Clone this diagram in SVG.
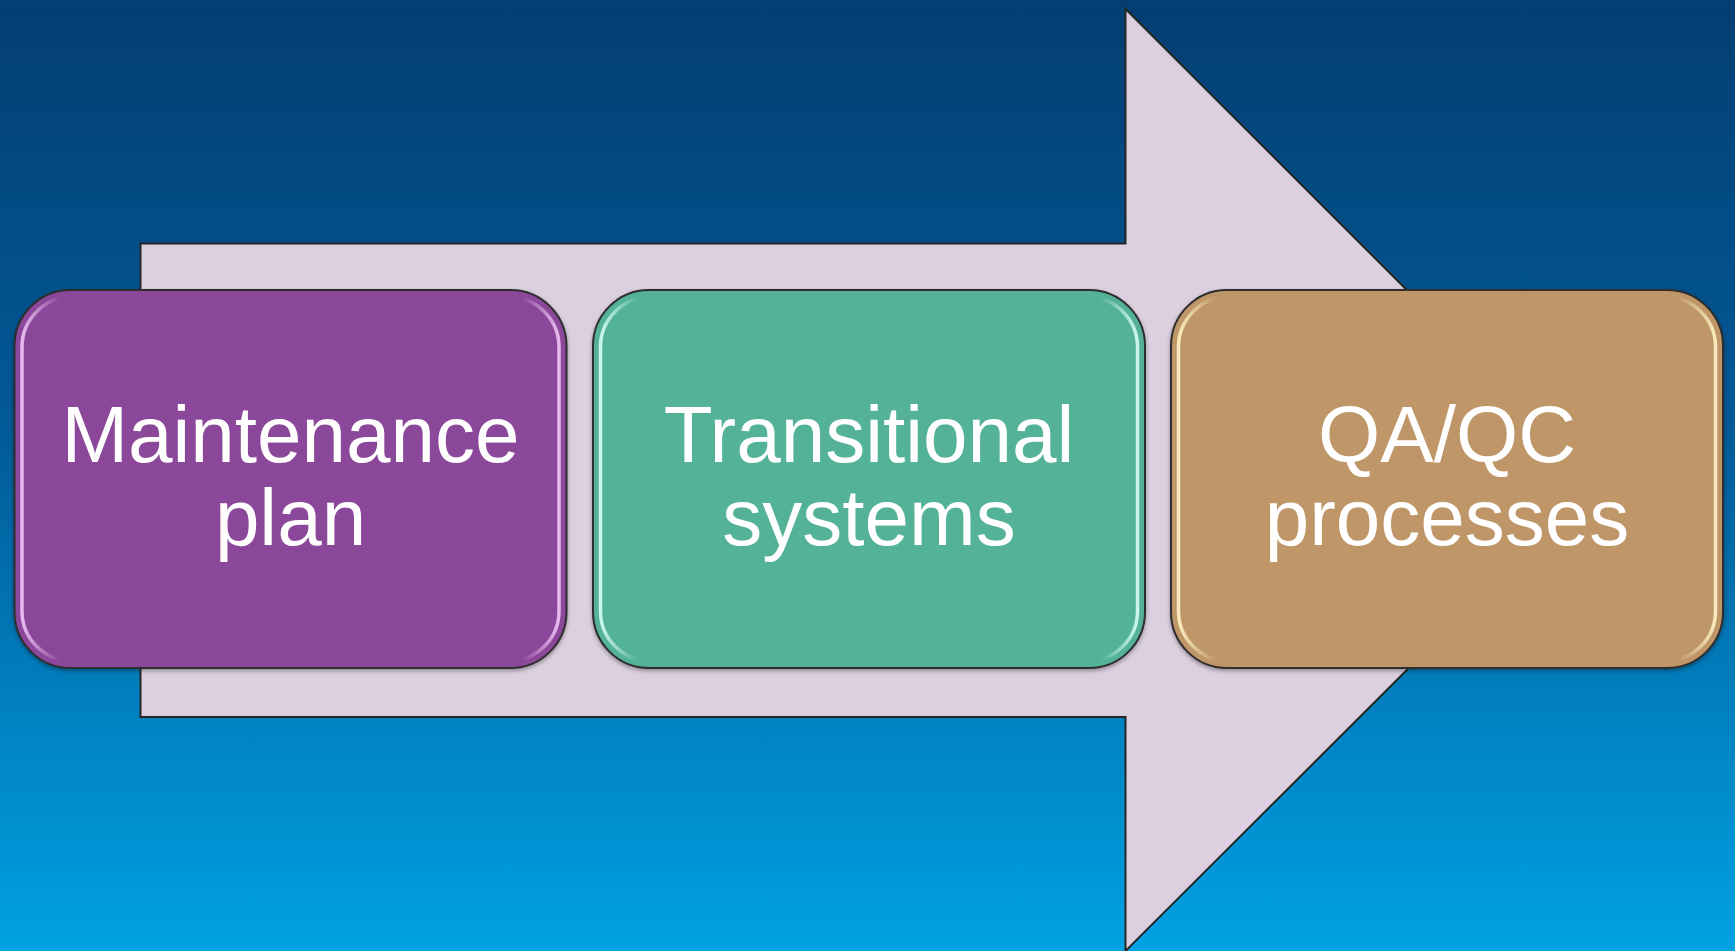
<svg xmlns="http://www.w3.org/2000/svg" width="1735" height="951" viewBox="0 0 1735 951">
<defs>
<linearGradient id="bg" x1="0" y1="0" x2="0" y2="1">
<stop offset="0" stop-color="#043e72"/>
<stop offset="0.45" stop-color="#025a98"/>
<stop offset="1" stop-color="#00a2e2"/>
</linearGradient>
<linearGradient id="rimP" x1="0" y1="0" x2="1" y2="0">
<stop offset="0" stop-color="#f0c8f8" stop-opacity="0.9"/>
<stop offset="0.07" stop-color="#f0c8f8" stop-opacity="0"/>
<stop offset="0.93" stop-color="#f0c8f8" stop-opacity="0"/>
<stop offset="1" stop-color="#f0c8f8" stop-opacity="0.9"/>
</linearGradient>
<linearGradient id="rimT" x1="0" y1="0" x2="1" y2="0">
<stop offset="0" stop-color="#d8fff4" stop-opacity="0.9"/>
<stop offset="0.07" stop-color="#d8fff4" stop-opacity="0"/>
<stop offset="0.93" stop-color="#d8fff4" stop-opacity="0"/>
<stop offset="1" stop-color="#d8fff4" stop-opacity="0.9"/>
</linearGradient>
<linearGradient id="rimQ" x1="0" y1="0" x2="1" y2="0">
<stop offset="0" stop-color="#fff4c8" stop-opacity="0.9"/>
<stop offset="0.07" stop-color="#fff4c8" stop-opacity="0"/>
<stop offset="0.93" stop-color="#fff4c8" stop-opacity="0"/>
<stop offset="1" stop-color="#fff4c8" stop-opacity="0.9"/>
</linearGradient>
<filter id="shadow" x="-5%" y="-5%" width="110%" height="115%">
<feDropShadow dx="0" dy="2" stdDeviation="2" flood-color="#000" flood-opacity="0.35"/>
</filter>
</defs>
<style>
.box { stroke: #2e2e2e; stroke-width: 2; }
.rim { fill: none; stroke-width: 3.5; }
.lbl { font-family: "Liberation Sans", Arial, sans-serif; font-size: 80px; fill: #ffffff; text-anchor: middle; }
.arrow { fill: #dcd0e0; stroke: #262626; stroke-width: 2; stroke-linejoin: miter; }
</style>
<rect x="0" y="0" width="1735" height="951" fill="url(#bg)"/>
<g id="connectors">
<path class="arrow" d="M140.5,243.5 H1125.5 V9 L1597,480 L1125.5,951 V717 H140.5 Z"/>
</g>
<g id="node-maintenance" filter="url(#shadow)">
<rect class="box" x="14.5" y="290" width="552" height="378" rx="56" ry="56" fill="#8b4799"/>
<rect class="rim" x="22" y="297" width="537" height="364" rx="50" ry="50" stroke="url(#rimP)"/>
<text class="lbl" x="290.5" y="462">Maintenance</text>
<text class="lbl" x="290.5" y="545">plan</text>
</g>
<g id="node-transitional" filter="url(#shadow)">
<rect class="box" x="593" y="290" width="552" height="378" rx="56" ry="56" fill="#53b297"/>
<rect class="rim" x="600.5" y="297" width="537" height="364" rx="50" ry="50" stroke="url(#rimT)"/>
<text class="lbl" x="869" y="462">Transitional</text>
<text class="lbl" x="869" y="545">systems</text>
</g>
<g id="node-qaqc" filter="url(#shadow)">
<rect class="box" x="1171" y="290" width="552" height="378" rx="56" ry="56" fill="#bf9668"/>
<rect class="rim" x="1178.5" y="297" width="537" height="364" rx="50" ry="50" stroke="url(#rimQ)"/>
<text class="lbl" x="1447" y="462">QA/QC</text>
<text class="lbl" x="1447" y="545">processes</text>
</g>
</svg>
